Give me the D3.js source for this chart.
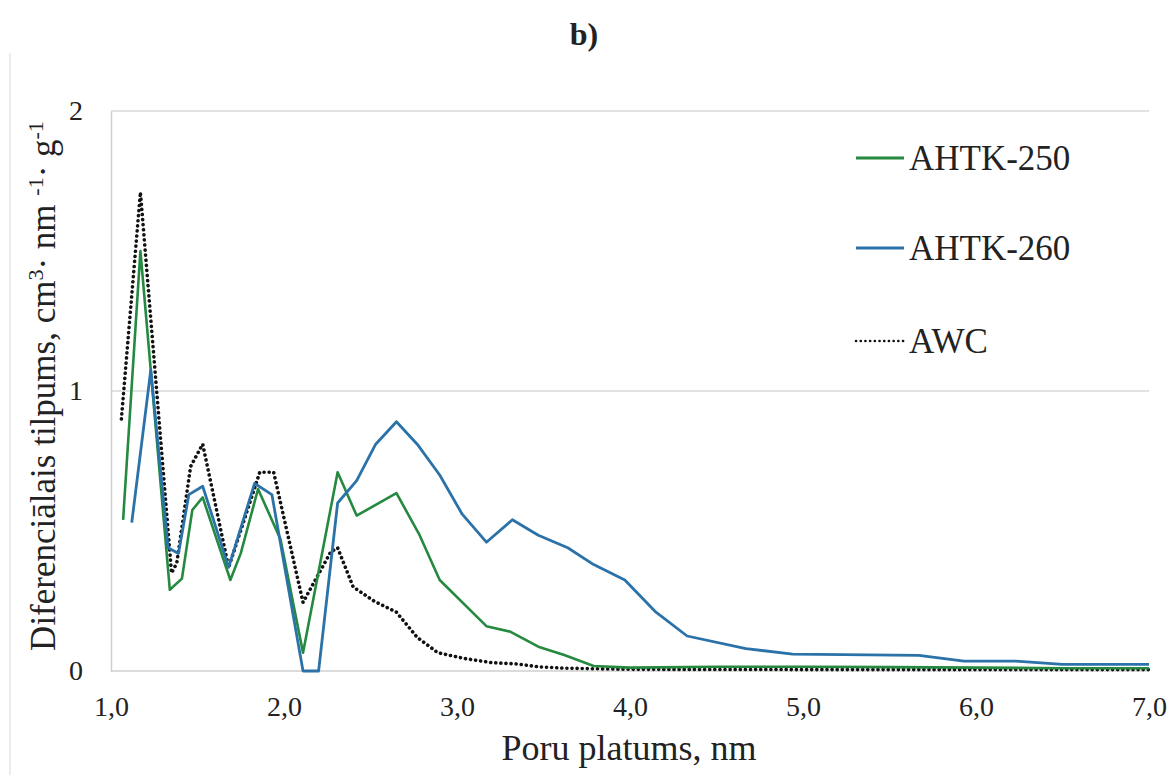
<!DOCTYPE html>
<html>
<head>
<meta charset="utf-8">
<script src="https://cdn.jsdelivr.net/npm/d3@7"></script>
<style>
  body { margin: 0; background: #fff; }
  svg text { font-family: "Liberation Serif", "Times New Roman", serif; fill: #222; }
</style>
</head>
<body>
<svg id="chart" width="1169" height="775"></svg>
<script>
// pore width (nm) and differential volume
const ahtk250X = [1.07, 1.17, 1.34, 1.41, 1.47, 1.53, 1.69, 1.75, 1.85, 1.98, 2.11, 2.31, 2.42, 2.65, 2.78, 2.90, 3.17, 3.31, 3.47, 3.62, 3.79, 4.0, 4.5, 5.0, 5.5, 6.0, 6.5, 7.0];
const ahtk250Y = [0.54, 1.50, 0.29, 0.33, 0.575, 0.62, 0.325, 0.42, 0.65, 0.47, 0.065, 0.71, 0.555, 0.635, 0.49, 0.325, 0.16, 0.14, 0.087, 0.057, 0.018, 0.012, 0.015, 0.015, 0.014, 0.012, 0.01, 0.01];

const ahtk260X = [1.12, 1.23, 1.33, 1.39, 1.45, 1.53, 1.68, 1.83, 1.93, 2.11, 2.20, 2.31, 2.42, 2.53, 2.65, 2.77, 2.90, 3.03, 3.17, 3.32, 3.47, 3.64, 3.79, 3.97, 4.15, 4.33, 4.67, 4.94, 5.67, 5.93, 6.23, 6.50, 7.0];
const ahtk260Y = [0.53, 1.075, 0.44, 0.42, 0.63, 0.66, 0.37, 0.67, 0.63, 0.0, 0.0, 0.60, 0.68, 0.81, 0.89, 0.81, 0.70, 0.56, 0.46, 0.54, 0.485, 0.44, 0.38, 0.325, 0.21, 0.125, 0.08, 0.06, 0.056, 0.035, 0.035, 0.024, 0.024];

const awcX = [1.06, 1.17, 1.35, 1.38, 1.46, 1.53, 1.68, 1.86, 1.94, 2.11, 2.27, 2.31, 2.40, 2.52, 2.65, 2.77, 2.89, 3.04, 3.20, 3.35, 3.47, 3.62, 4.0, 5.0, 6.0, 7.0];
const awcY = [0.90, 1.71, 0.35, 0.385, 0.73, 0.81, 0.37, 0.71, 0.71, 0.245, 0.425, 0.44, 0.30, 0.25, 0.21, 0.12, 0.065, 0.045, 0.03, 0.025, 0.015, 0.01, 0.006, 0.005, 0.005, 0.005];

const seriesNames = ["AHTK-250", "AHTK-260", "AWC"];
const xTicks = [1, 2, 3, 4, 5, 6, 7];
const yTicks = [0, 1, 2];

const svg = d3.select("#chart");
const plot = { left: 111, right: 1149, top: 111, bottom: 671 };

const x = d3.scaleLinear().domain([1, 7]).range([plot.left, plot.right]);
const y = d3.scaleLinear().domain([0, 2]).range([plot.bottom, plot.top]);

// faint outer chart border
svg.append("line")
    .attr("x1", 10).attr("x2", 10).attr("y1", 53).attr("y2", 775)
    .attr("stroke", "#ececec").attr("stroke-width", 2);

// title
svg.append("text")
    .attr("x", 584).attr("y", 45)
    .attr("text-anchor", "middle")
    .attr("font-size", 32).attr("font-weight", "bold")
    .text("b)");

// gridlines
svg.append("g")
    .selectAll("line")
    .data(yTicks.filter(d => d > 0))
    .join("line")
    .attr("x1", plot.left).attr("x2", plot.right)
    .attr("y1", d => y(d)).attr("y2", d => y(d))
    .attr("stroke", "#d9d9d9").attr("stroke-width", 1.5);

// axes
const xAxis = svg.append("g")
    .attr("transform", `translate(0,${plot.bottom})`)
    .call(d3.axisBottom(x).tickValues(xTicks).tickSize(0).tickPadding(25)
        .tickFormat(d => d3.format(".1f")(d).replace(".", ",")));
xAxis.select(".domain").attr("stroke", "#cfcfcf").attr("stroke-width", 1.5)
    .attr("d", `M${plot.left},0H${plot.right}`);
xAxis.selectAll("text").attr("font-size", 28).attr("fill", "#333");

const yAxis = svg.append("g")
    .attr("transform", `translate(${plot.left},0)`)
    .call(d3.axisLeft(y).tickValues(yTicks).tickSize(0).tickPadding(28)
        .tickFormat(d3.format("d")));
yAxis.select(".domain").attr("stroke", "#cfcfcf").attr("stroke-width", 1.5);
yAxis.selectAll("text").attr("font-size", 28).attr("fill", "#333");

// axis titles
svg.append("text")
    .attr("x", 629).attr("y", 760)
    .attr("text-anchor", "middle")
    .attr("font-size", 36)
    .text("Poru platums, nm");

const yTitle = svg.append("text")
    .attr("transform", "translate(55,386) rotate(-90)")
    .attr("text-anchor", "middle")
    .attr("font-size", 35);
yTitle.append("tspan").text("Diferenciālais tilpums, cm");
yTitle.append("tspan").attr("baseline-shift", "super").attr("font-size", 22).text("3");
yTitle.append("tspan").text("· nm ");
yTitle.append("tspan").attr("baseline-shift", "super").attr("font-size", 22).text("-1");
yTitle.append("tspan").text("· g");
yTitle.append("tspan").attr("baseline-shift", "super").attr("font-size", 22).text("-1");

// series
const series = [
    { name: seriesNames[0], xs: ahtk250X, ys: ahtk250Y, color: "#25893f", dash: null, width: 2.6 },
    { name: seriesNames[1], xs: ahtk260X, ys: ahtk260Y, color: "#2a72a8", dash: null, width: 2.8 },
    { name: seriesNames[2], xs: awcX, ys: awcY, color: "#111", dash: "0.1 5", width: 3.6 }
];

const line = d3.line().x(d => x(d[0])).y(d => y(d[1]));

// draw dotted first so the solid lines sit on top the way Excel layers them
[series[2], series[0], series[1]].forEach(s => {
    svg.append("path")
        .datum(s.xs.map((v, i) => [v, s.ys[i]]))
        .attr("fill", "none")
        .attr("stroke", s.color)
        .attr("stroke-width", s.width)
        .attr("stroke-linejoin", "round")
        .attr("stroke-linecap", s.dash ? "round" : "butt")
        .attr("stroke-dasharray", s.dash)
        .attr("d", line);
});

// legend
const legendY = [158, 248, 341];
series.forEach((s, i) => {
    svg.append("line")
        .attr("x1", 856).attr("x2", 904)
        .attr("y1", legendY[i]).attr("y2", legendY[i])
        .attr("stroke", s.color)
        .attr("stroke-width", s.dash ? 2.6 : 3)
        .attr("stroke-linecap", s.dash ? "round" : "butt")
        .attr("stroke-dasharray", s.dash ? "0.1 4.6" : null);
    svg.append("text")
        .attr("x", 909).attr("y", legendY[i] + 12)
        .attr("font-size", 35)
        .text(s.name);
});
</script>
</body>
</html>
